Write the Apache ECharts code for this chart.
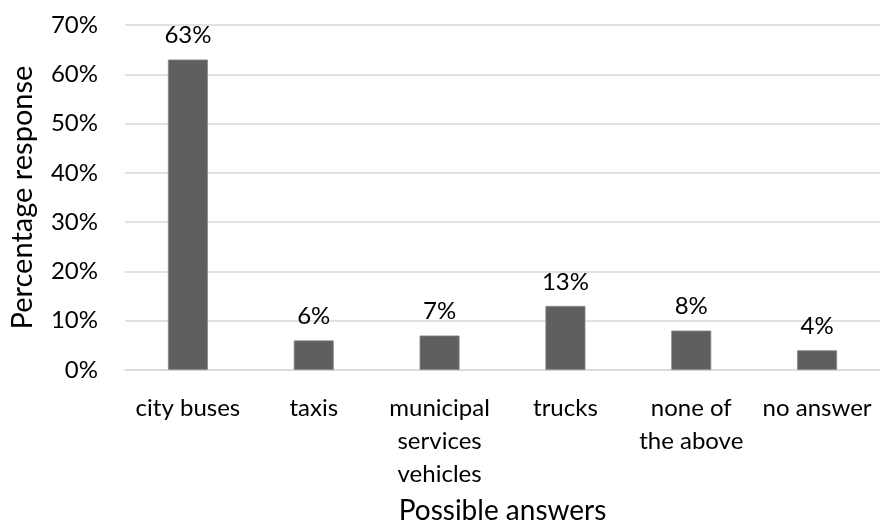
<!DOCTYPE html>
<html>
<head>
<meta charset="utf-8">
<script src="https://cdn.jsdelivr.net/npm/echarts@6/dist/echarts.min.js"></script>
<style>
  html, body { margin: 0; padding: 0; background: #fff; }
  #chart { width: 892px; height: 530px; }
</style>
</head>
<body>
<div id="chart"></div>
<script>
var categories = ['city buses', 'taxis', 'municipal\nservices\nvehicles', 'trucks', 'none of\nthe above', 'no answer'];
var responses = [63, 6, 7, 13, 8, 4];
var yTicks = [0, 10, 20, 30, 40, 50, 60, 70];

var font = 'Lato, sans-serif';

window.onload = function () {
    var myChart = echarts.init(document.getElementById('chart'));
    var option = {
        animation: false,
        textStyle: { fontFamily: font },
        grid: { left: 125, right: 12, top: 25, bottom: 160, outerBoundsMode: 'none' },
        xAxis: {
            type: 'category',
            data: categories,
            name: 'Possible answers',
            nameLocation: 'middle',
            nameGap: 127,
            nameTextStyle: { fontSize: 28, color: '#000', fontFamily: font },
            axisLine: { lineStyle: { color: '#d9d9d9', width: 1.5 } },
            axisTick: { show: false },
            axisLabel: {
                interval: 0,
                margin: 22,
                fontSize: 24,
                lineHeight: 33,
                color: '#000',
                fontFamily: font
            }
        },
        yAxis: {
            type: 'value',
            min: yTicks[0],
            max: yTicks[yTicks.length - 1],
            interval: 10,
            name: 'Percentage response',
            nameLocation: 'middle',
            nameGap: 88,
            nameTextStyle: { fontSize: 29, color: '#000', fontFamily: font },
            axisLine: { show: false },
            axisTick: { show: false },
            splitLine: { lineStyle: { color: '#d9d9d9', width: 1.5 } },
            axisLabel: {
                margin: 27,
                fontSize: 24,
                color: '#000',
                fontFamily: font,
                formatter: '{value}%'
            }
        },
        series: [{
            type: 'bar',
            data: responses,
            barWidth: 40,
            itemStyle: { color: '#5f5f5f', borderColor: '#8a8a8a', borderWidth: 0.8 },
            label: {
                show: true,
                position: 'top',
                distance: 12,
                fontSize: 24,
                color: '#000',
                fontFamily: font,
                formatter: '{c}%'
            }
        }]
    };
    myChart.setOption(option);
};
</script>
</body>
</html>
